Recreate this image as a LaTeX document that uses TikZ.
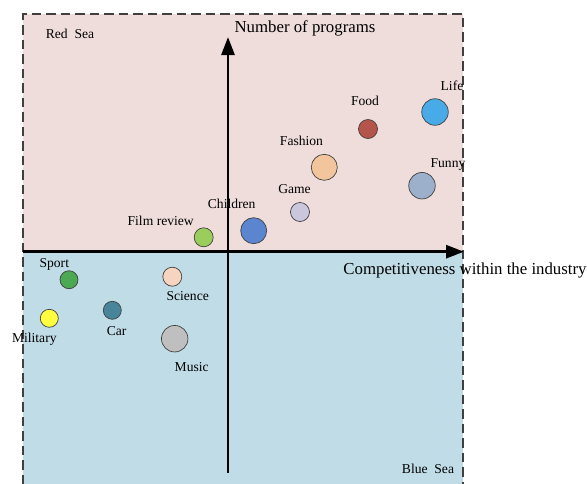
\documentclass[tikz,border=0pt]{standalone}
\usepackage{fontspec}
\setmainfont{Liberation Serif}
\usetikzlibrary{arrows.meta}
\definecolor{redsea}{HTML}{EFDDDC}
\definecolor{bluesea}{HTML}{C0DCE6}
\definecolor{cFilm}{HTML}{9BCD5C}
\definecolor{cChildren}{HTML}{5B86CF}
\definecolor{cGame}{HTML}{CAC7DD}
\definecolor{cFashion}{HTML}{F2C59C}
\definecolor{cFood}{HTML}{B4544B}
\definecolor{cLife}{HTML}{49AAE8}
\definecolor{cFunny}{HTML}{9CB0CC}
\definecolor{cSport}{HTML}{4BA853}
\definecolor{cMilitary}{HTML}{FFFF40}
\definecolor{cCar}{HTML}{48849A}
\definecolor{cScience}{HTML}{F7D4BF}
\definecolor{cMusic}{HTML}{BFBFBF}
\tikzset{
  bubble/.style={circle, draw=black!75, line width=0.7pt, inner sep=0pt, minimum size=#1},
  lbl/.style={font=\fontsize{13.6}{16}\selectfont, inner sep=0pt, text=black},
  axlbl/.style={font=\fontsize{16.8}{20}\selectfont, inner sep=0pt, text=black},
  axis/.style={line width=2.8pt, -{Triangle[length=18pt,width=13pt]}},
  frame/.style={draw=black!75, line width=1.3pt, dash pattern=on 9.5pt off 5pt}
}
\begin{document}
\begin{tikzpicture}[x=1pt,y=-1pt]
\useasboundingbox (0,0) rectangle (587,483);
% regions
\fill[redsea] (23,14) rectangle (463,251.7);
\fill[bluesea] (23,251.7) rectangle (463,484);
\draw[frame] (23,484) -- (23,14) -- (463,14) -- (463,484);
% axes
\coordinate (xs) at (23,251.7);
\coordinate (xe) at (464,251.7);
\coordinate (ys) at (228,473);
\coordinate (ye) at (228,37);
\draw[axis] (xs) -- (xe);
\draw[axis] (ys) -- (ye);
% axis labels
\node[axlbl] (ylab) at (305,28) {Number of programs};
\node[axlbl] (xlab) at (465,270) {Competitiveness within the industry};
\node[lbl] (red) at (70,34) {Red\ \ Sea};
\node[lbl] (blue) at (428,469) {Blue\ \ Sea};
% bubbles
\node[bubble=19pt, fill=cFilm] (film) at (203.7,237.3) {};
\node[bubble=26pt, fill=cChildren] (children) at (253.7,230.7) {};
\node[bubble=19pt, fill=cGame] (game) at (300,212) {};
\node[bubble=26pt, fill=cFashion] (fashion) at (324.3,167.3) {};
\node[bubble=19pt, fill=cFood] (food) at (368,129) {};
\node[bubble=26.5pt, fill=cLife] (life) at (435,112) {};
\node[bubble=26.5pt, fill=cFunny] (funny) at (422,185.7) {};
\node[bubble=18pt, fill=cSport] (sport) at (69,279.7) {};
\node[bubble=18pt, fill=cMilitary] (military) at (49.3,318.3) {};
\node[bubble=18pt, fill=cCar] (car) at (112.3,310.3) {};
\node[bubble=19pt, fill=cScience] (science) at (172.3,276.7) {};
\node[bubble=26.5pt, fill=cMusic] (music) at (174.7,338.7) {};
% labels
\node[lbl] (lfilm) at (160.7,220.7) {Film review};
\node[lbl] (lchildren) at (231.7,204) {Children};
\node[lbl] (lgame) at (294.5,189) {Game};
\node[lbl] (lfashion) at (301.5,141) {Fashion};
\node[lbl] (lfood) at (365,101.3) {Food};
\node[lbl] (llife) at (452,85.3) {Life};
\node[lbl] (lfunny) at (448,165) {Funny};
\node[lbl] (lsport) at (54.3,264) {Sport};
\node[lbl] (lmilitary) at (34.3,339.3) {Military};
\node[lbl] (lcar) at (116.7,330.7) {Car};
\node[lbl] (lscience) at (187.7,295.7) {Science};
\node[lbl] (lmusic) at (191.7,366.7) {Music};
\end{tikzpicture}
\end{document}
